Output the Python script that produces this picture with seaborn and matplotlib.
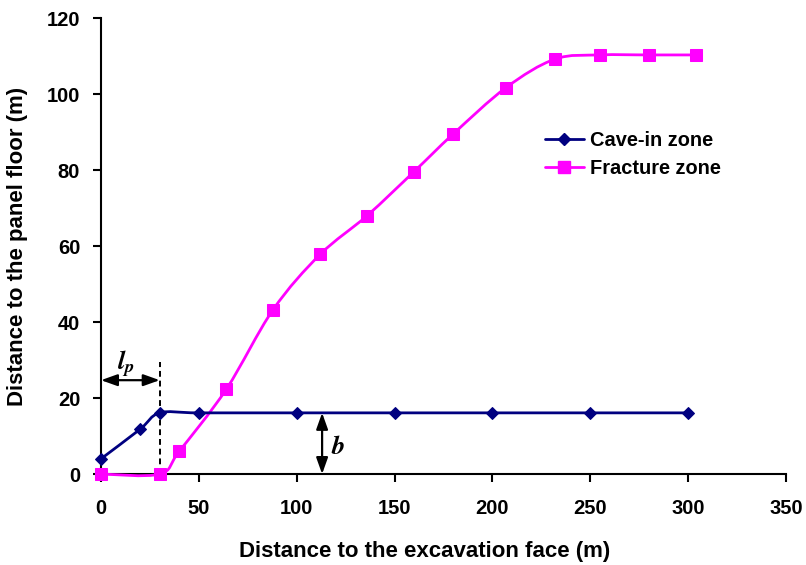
import matplotlib
matplotlib.use("Agg")
import matplotlib.pyplot as plt
import seaborn as sns
import numpy as np
import pandas as pd
from matplotlib.path import Path
from matplotlib.patches import PathPatch
from matplotlib.lines import Line2D

# ---------------- data ----------------
cave_x = [0, 20, 30, 50, 100, 150, 200, 250, 300]
cave_y = [4, 11.8, 16.1, 16.1, 16.1, 16.1, 16.1, 16.1, 16.1]

frac_x = [0, 30, 40, 64, 88, 112, 136, 160, 180, 207, 232, 255, 280, 304]
frac_y = [0, 0, 6.0, 22.3, 43.3, 57.8, 68.0, 79.6, 89.5, 101.7, 109.2, 110.3, 110.3, 110.3]

series_names = ["Cave-in zone", "Fracture zone"]
x_ticks = [0, 50, 100, 150, 200, 250, 300, 350]
y_ticks = [0, 20, 40, 60, 80, 100, 120]

# annotation positions (data units)
lp_x = 30
lp_top = 29.5
lp_arrow_y = 24.7
lp_label_xy = (12.5, 28.8)
b_x = 113
b_top = 16.1
b_label_xy = (121, 7.2)

# ---------------- style ----------------
sns.set_theme(style="ticks")
plt.rcParams["font.family"] = ["Liberation Sans", "DejaVu Sans"]
plt.rcParams["font.weight"] = "bold"
for key in ["text.color", "axes.labelcolor", "xtick.color", "ytick.color",
            "axes.edgecolor"]:
    plt.rcParams[key] = "black"

NAVY = "#000080"
MAGENTA = "#FF00FF"
TICK_FS = 14.5
LABEL_FS = 16
LEGEND_FS = 14.4

fig = plt.figure(figsize=(8.06, 5.65), dpi=100)
ax = fig.add_axes([0.1253, 0.161, 0.975 - 0.1253, 0.968 - 0.161])


def smooth_path(xs, ys, tension=1 / 6):
    pts = np.column_stack([xs, ys]).astype(float)
    n = len(pts)
    verts = [pts[0]]
    codes = [Path.MOVETO]
    for i in range(n - 1):
        p0 = pts[i - 1] if i > 0 else pts[i]
        p1 = pts[i]
        p2 = pts[i + 1]
        p3 = pts[i + 2] if i + 2 < n else pts[i + 1]
        c1 = p1 + (p2 - p0) * tension
        c2 = p2 - (p3 - p1) * tension
        verts += [c1, c2, p2]
        codes += [Path.CURVE4] * 3
    return Path(verts, codes)


df_cave = pd.DataFrame({"x": cave_x, "y": cave_y})
df_frac = pd.DataFrame({"x": frac_x, "y": frac_y})

# smooth lines
for xs, ys, col in [(frac_x, frac_y, MAGENTA), (cave_x, cave_y, NAVY)]:
    patch = PathPatch(smooth_path(xs, ys), facecolor="none", edgecolor=col,
                      lw=2.0, clip_on=False, zorder=3)
    ax.add_patch(patch)

# markers
sns.lineplot(data=df_frac, x="x", y="y", ax=ax, marker="s", markersize=8.5,
             color=MAGENTA, markeredgecolor=MAGENTA, linestyle="", lw=0,
             clip_on=False, zorder=4)
sns.lineplot(data=df_cave, x="x", y="y", ax=ax, marker="D", markersize=6.6,
             color=NAVY, markeredgecolor=NAVY, linestyle="", lw=0,
             clip_on=False, zorder=5)

# annotations
ax.plot([lp_x, lp_x], [0, lp_top], color="black", lw=1.4, ls=(0, (3, 2)), zorder=2)
ax.annotate("", xy=(0, lp_arrow_y), xytext=(lp_x, lp_arrow_y),
            arrowprops=dict(arrowstyle="<|-|>,head_length=0.7,head_width=0.25",
                            color="black", lw=1.6,
                            mutation_scale=14, shrinkA=0, shrinkB=0))
ax.text(*lp_label_xy, r"$l_p$", fontsize=19, ha="center", va="center",
        math_fontfamily="stix")
ax.annotate("", xy=(b_x, 0), xytext=(b_x, b_top),
            arrowprops=dict(arrowstyle="<|-|>,head_length=0.7,head_width=0.25",
                            color="black", lw=1.6,
                            mutation_scale=14, shrinkA=0, shrinkB=0))
ax.text(*b_label_xy, r"$b$", fontsize=19, ha="center", va="center",
        math_fontfamily="stix")

# axes
ax.set_xlim(0, 350)
ax.set_ylim(0, 120)
ax.set_xticks(x_ticks)
ax.set_yticks(y_ticks)
ax.set_xticklabels([str(v) for v in x_ticks], fontsize=TICK_FS, fontweight="bold")
ax.set_yticklabels([str(v) for v in y_ticks], fontsize=TICK_FS, fontweight="bold")
ax.tick_params(axis="both", direction="out", length=6, width=1.5, color="black",
               labelcolor="black")
ax.tick_params(axis="x", pad=12)
ax.tick_params(axis="y", pad=9)
for side in ["left", "bottom"]:
    ax.spines[side].set_linewidth(1.5)
    ax.spines[side].set_color("black")
sns.despine(ax=ax)
ax.set_facecolor("white")

ax.set_xlabel("Distance to the excavation face (m)", fontsize=LABEL_FS,
              fontweight="bold", color="black")
ax.set_ylabel("Distance to the panel floor (m)", fontsize=LABEL_FS,
              fontweight="bold", color="black")
ax.xaxis.set_label_coords(0.473, -0.147)
ax.yaxis.set_label_coords(-0.107, 0.5)

handles = [
    Line2D([], [], color=NAVY, lw=2.0, marker="D", markersize=6.6),
    Line2D([], [], color=MAGENTA, lw=2.0, marker="s", markersize=8.5),
]
leg = ax.legend(handles, series_names, loc="upper left", bbox_to_anchor=(0.648, 0.752),
                frameon=False, borderpad=0, borderaxespad=0, handlelength=1.95,
                handletextpad=0.3, labelspacing=0.45,
                prop={"size": LEGEND_FS, "weight": "bold"})
for t in leg.get_texts():
    t.set_color("black")

fig.savefig("out.png", dpi=100, facecolor="white")
